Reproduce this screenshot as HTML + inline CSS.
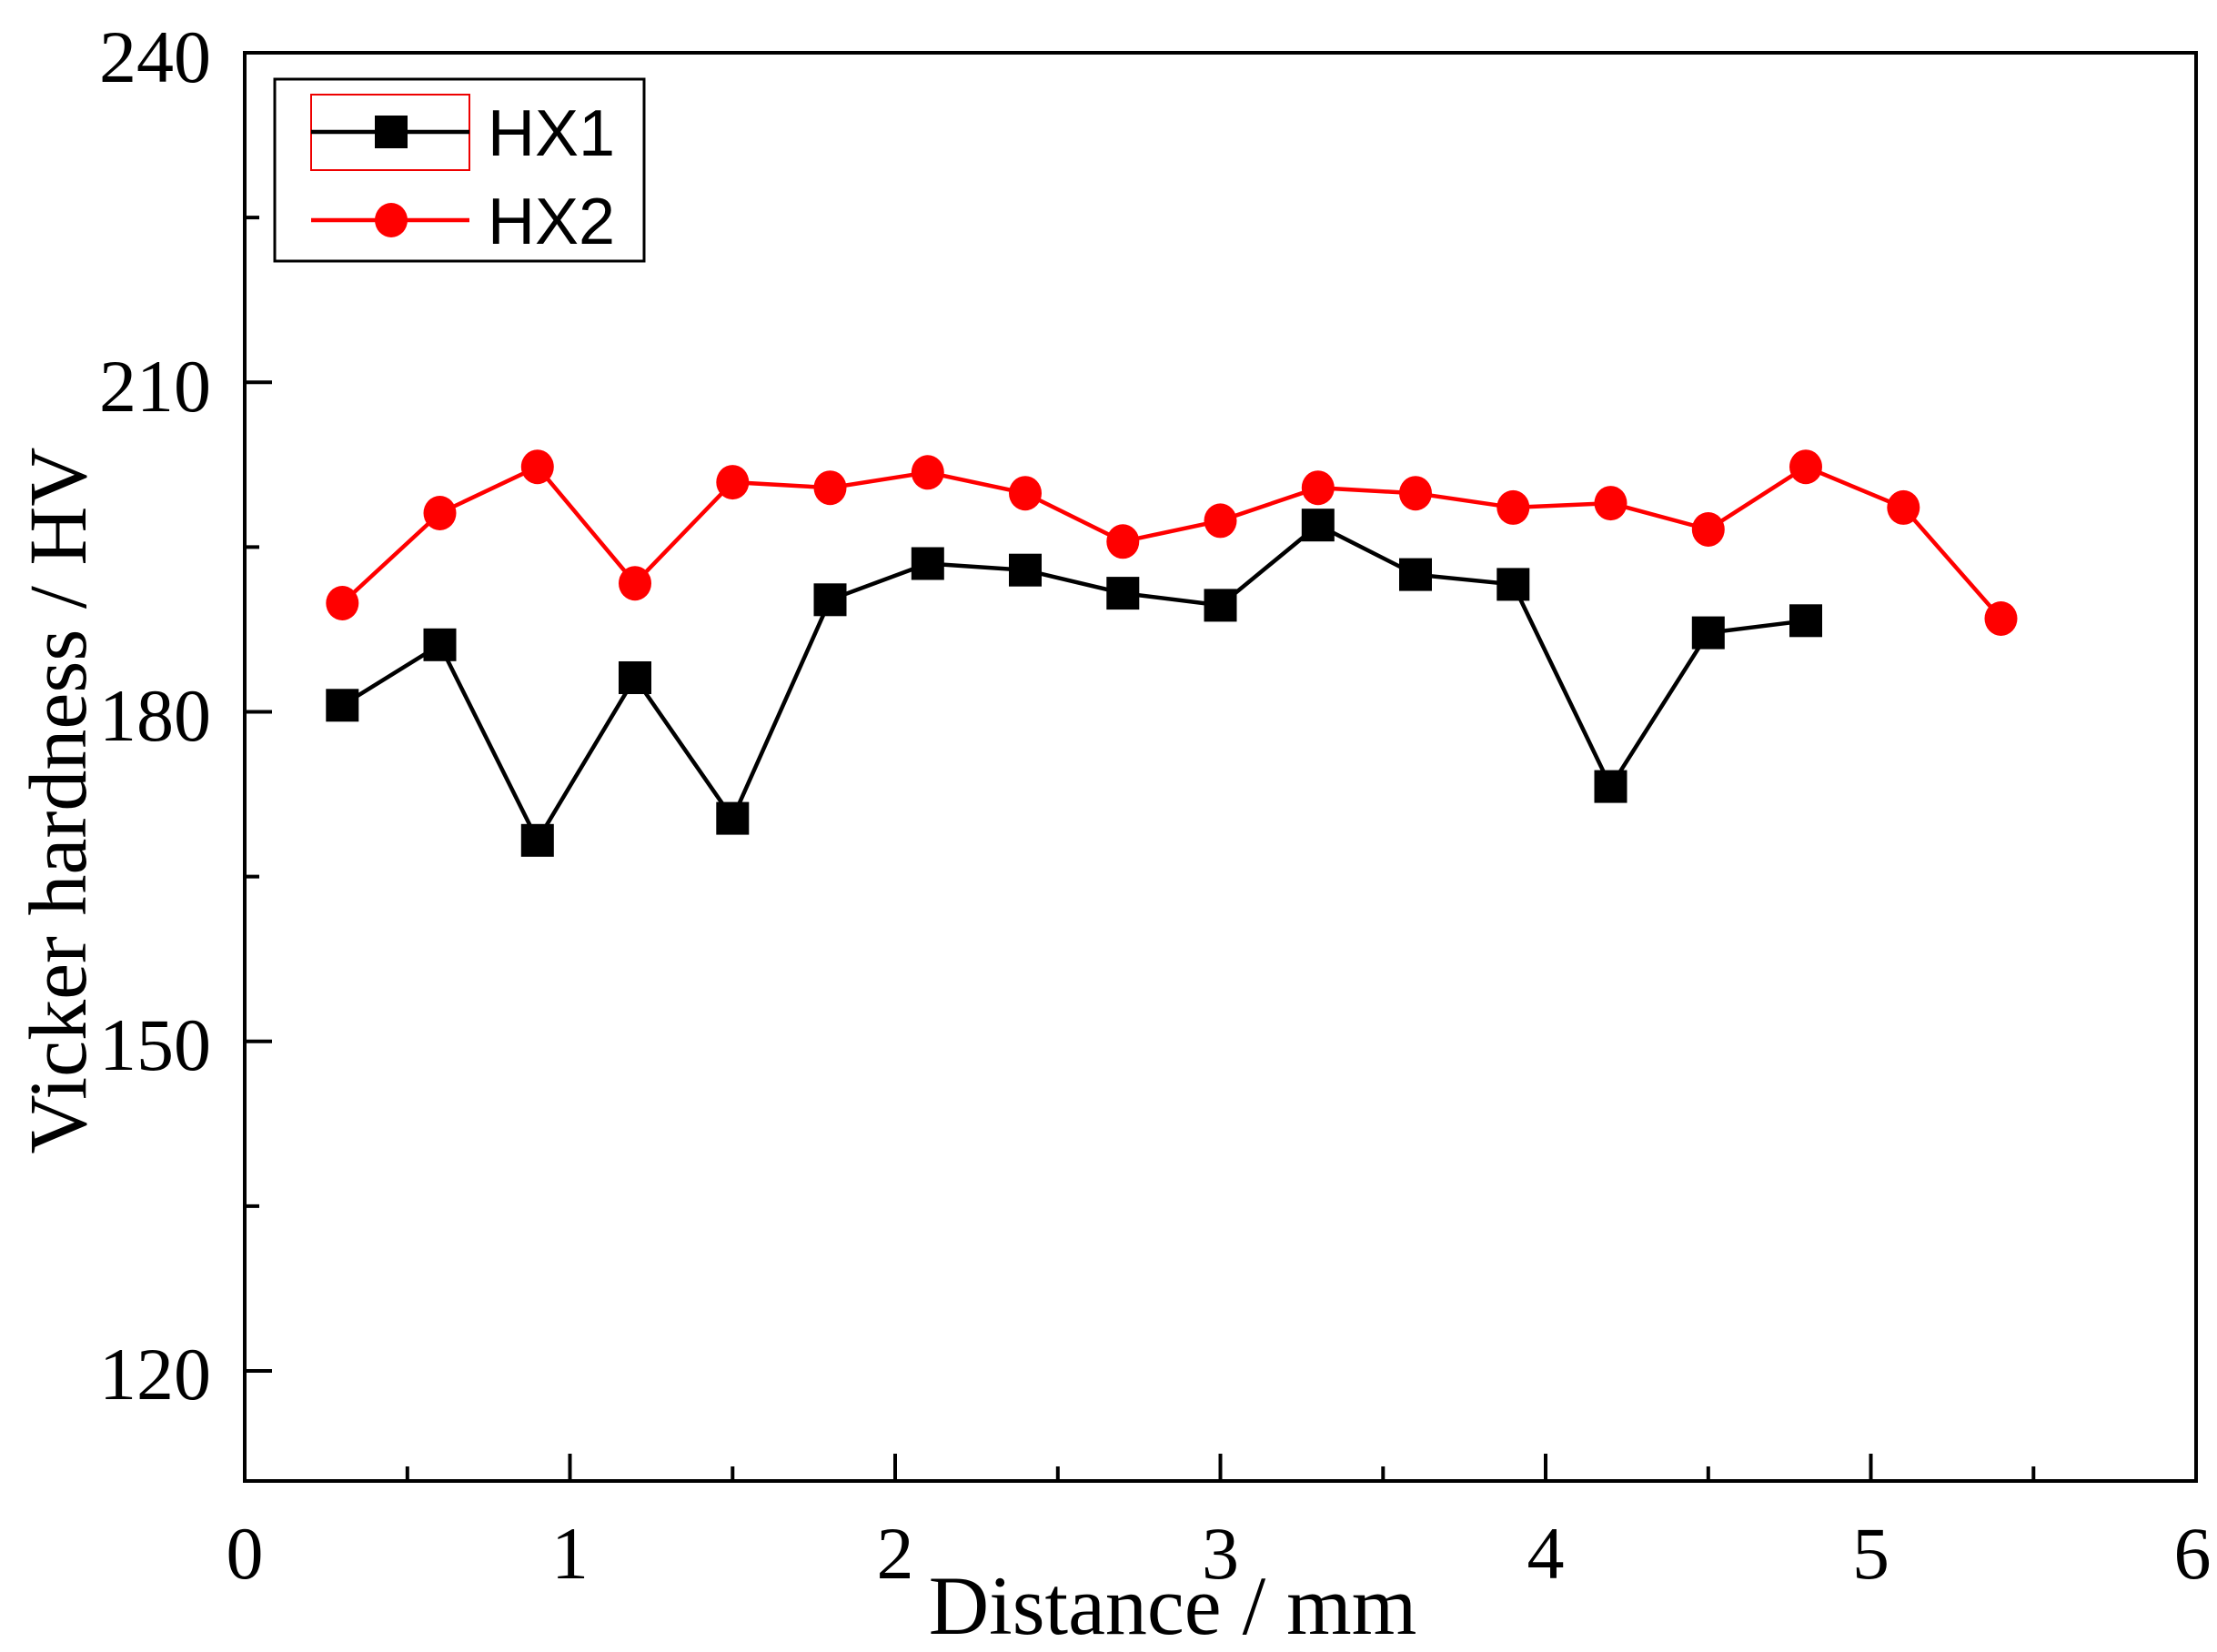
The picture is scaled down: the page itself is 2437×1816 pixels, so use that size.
<!DOCTYPE html>
<html><head><meta charset="utf-8"><style>html,body{margin:0;padding:0;background:#fff}svg{display:block}</style></head>
<body>
<svg width="2437" height="1816" viewBox="0 0 2437 1816" xmlns="http://www.w3.org/2000/svg">
<rect width="2437" height="1816" fill="#fff"/>
<g stroke="#000" stroke-width="4" fill="none">
<rect x="269" y="58" width="2145" height="1570"/>
<path d="M269 58h30M269 420.3h30M269 782.5h30M269 1144.8h30M269 1507h30M269 239.1h16M269 601.4h16M269 963.6h16M269 1325.9h16"/>
<path d="M626.5 1628v-30M984 1628v-30M1341.5 1628v-30M1699 1628v-30M2056.5 1628v-30M447.8 1628v-16M805.3 1628v-16M1162.8 1628v-16M1520.3 1628v-16M1877.8 1628v-16M2235.3 1628v-16"/>
</g>
<g font-family="Liberation Serif, serif" font-size="82" fill="#000">
<g text-anchor="end">
<text x="232" y="90">240</text><text x="232" y="452">210</text><text x="232" y="814">180</text><text x="232" y="1176">150</text><text x="232" y="1538">120</text>
</g>
<g text-anchor="middle">
<text x="269" y="1735">0</text><text x="626.5" y="1735">1</text><text x="984" y="1735">2</text><text x="1341.5" y="1735">3</text><text x="1699" y="1735">4</text><text x="2056.5" y="1735">5</text><text x="2410" y="1735">6</text>
<text x="1289" y="1796" font-size="92">Distance / mm</text>
<text transform="translate(94,880) rotate(-90)" font-size="90">Vicker hardness / HV</text>
</g>
</g>
<polyline fill="none" stroke="#000" stroke-width="4.5" points="376.3,775.3 483.5,708.8 590.8,923.8 698,745 805.3,899.6 912.5,659.3 1019.8,619.5 1127,626.7 1234.3,652.1 1341.5,665.4 1448.8,577.2 1556,631.6 1663.3,642.4 1770.5,864.6 1877.8,695.6 1985,682.3"/>
<g fill="#000">
<rect x="358.3" y="757.3" width="36" height="36"/><rect x="465.5" y="690.8" width="36" height="36"/><rect x="572.8" y="905.8" width="36" height="36"/><rect x="680" y="727" width="36" height="36"/><rect x="787.3" y="881.6" width="36" height="36"/><rect x="894.5" y="641.3" width="36" height="36"/><rect x="1001.8" y="601.5" width="36" height="36"/><rect x="1109" y="608.7" width="36" height="36"/><rect x="1216.3" y="634.1" width="36" height="36"/><rect x="1323.5" y="647.4" width="36" height="36"/><rect x="1430.8" y="559.2" width="36" height="36"/><rect x="1538" y="613.6" width="36" height="36"/><rect x="1645.3" y="624.4" width="36" height="36"/><rect x="1752.5" y="846.6" width="36" height="36"/><rect x="1859.8" y="677.6" width="36" height="36"/><rect x="1967" y="664.3" width="36" height="36"/>
</g>
<polyline fill="none" stroke="#f00" stroke-width="4.5" points="376.3,663 483.5,564 590.8,513.2 698,641.2 805.3,530.1 912.5,536.2 1019.8,519.3 1127,542.2 1234.3,595.3 1341.5,572.4 1448.8,536.2 1556,542.2 1663.3,557.9 1770.5,553.1 1877.8,582 1985,513.2 2092.3,557.9 2199.5,680"/>
<g fill="#f00">
<ellipse cx="376.3" cy="663" rx="18" ry="19"/><ellipse cx="483.5" cy="564" rx="18" ry="19"/><ellipse cx="590.8" cy="513.2" rx="18" ry="19"/><ellipse cx="698" cy="641.2" rx="18" ry="19"/><ellipse cx="805.3" cy="530.1" rx="18" ry="19"/><ellipse cx="912.5" cy="536.2" rx="18" ry="19"/><ellipse cx="1019.8" cy="519.3" rx="18" ry="19"/><ellipse cx="1127" cy="542.2" rx="18" ry="19"/><ellipse cx="1234.3" cy="595.3" rx="18" ry="19"/><ellipse cx="1341.5" cy="572.4" rx="18" ry="19"/><ellipse cx="1448.8" cy="536.2" rx="18" ry="19"/><ellipse cx="1556" cy="542.2" rx="18" ry="19"/><ellipse cx="1663.3" cy="557.9" rx="18" ry="19"/><ellipse cx="1770.5" cy="553.1" rx="18" ry="19"/><ellipse cx="1877.8" cy="582" rx="18" ry="19"/><ellipse cx="1985" cy="513.2" rx="18" ry="19"/><ellipse cx="2092.3" cy="557.9" rx="18" ry="19"/><ellipse cx="2199.5" cy="680" rx="18" ry="19"/>
</g>
<rect x="302" y="87" width="406" height="200" fill="#fff" stroke="#000" stroke-width="3"/>
<rect x="342" y="104" width="174" height="83" fill="none" stroke="#e00" stroke-width="2"/>
<line x1="342" y1="145" x2="516" y2="145" stroke="#000" stroke-width="4.5"/>
<rect x="412" y="127" width="36" height="36" fill="#000"/>
<line x1="342" y1="242" x2="516" y2="242" stroke="#f00" stroke-width="4.5"/>
<ellipse cx="430" cy="242" rx="18" ry="19" fill="#f00"/>
<g font-family="Liberation Sans, sans-serif" font-size="72" fill="#000">
<text x="536" y="171">HX1</text><text x="536" y="268">HX2</text>
</g>
</svg>
</body></html>
